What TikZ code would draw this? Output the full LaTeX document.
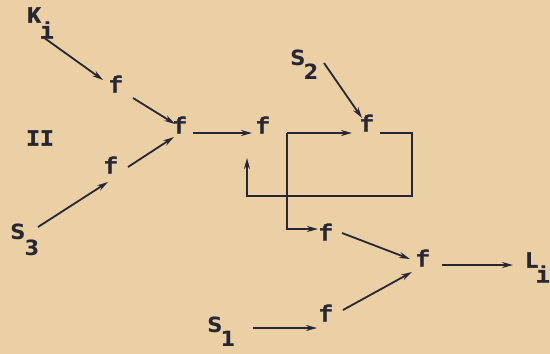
\documentclass[tikz,border=0pt]{standalone}
\usepackage{fontspec}
\newfontfamily\twfont{Liberation Mono Bold}[FakeBold=1.6]
\newfontfamily\stfont{DejaVu Sans Bold}
\usetikzlibrary{arrows.meta,calc}
\definecolor{paper}{RGB}{234,208,164}
\definecolor{ink}{RGB}{38,38,52}
\tikzset{
  tw/.style={inner sep=0pt, text=ink, font=\twfont\fontsize{23}{23}\selectfont},
  st/.style={inner sep=0pt, text=ink, font=\stfont\fontsize{21}{21}\selectfont},
  arr/.style={draw=ink, line width=1.8pt, -{Stealth[length=11pt,width=6pt]}},
  ln/.style={draw=ink, line width=1.8pt}
}
\begin{document}
\begin{tikzpicture}[x=1pt,y=-1pt]
\useasboundingbox (0,0) rectangle (550,354);
\fill[paper] (0,0) rectangle (550,354);
% labels
\node[tw] (K) at (34,15) {K};
\node[tw] (Ks) at (47,30) {i};
\node[tw] (II) at (40,138) {II};
\node[st] (S3) at (18,232) {S};
\node[st] (S3s) at (32,248) {3};
\node[st] (S2) at (298,58) {S};
\node[st] (S2s) at (311,72) {2};
\node[st] (S1) at (215,325) {S};
\node[st] (S1s) at (228,339) {1};
\node[tw] (L) at (532,260) {L};
\node[tw] (Ls) at (543,274) {i};
% f nodes
\node[tw] (f1) at (116,84) {f};
\node[tw] (f2) at (180,125) {f};
\node[tw] (f3) at (111,165) {f};
\node[tw] (f4) at (263,125) {f};
\node[tw] (f5) at (367,123) {f};
\node[tw] (f6) at (326,232) {f};
\node[tw] (f7) at (423,258) {f};
\node[tw] (f8) at (326,313) {f};
\coordinate (br) at ($(f4)+(24,8)$);
\coordinate (rc) at ($(f5)+(45,73)$);
\coordinate (lc) at ($(f4)+(-16,71)$);
% connectors
\draw[arr] ($(Ks)+(-4,7)$) -- ($(f1)+(-13,-4)$);
\draw[arr] ($(f1)+(17,14)$) -- ($(f2)+(-5,-1)$);
\draw[arr] ($(f3)+(17,2)$) -- ($(f2)+(-6,12)$);
\draw[arr] ($(S3)+(20,-5)$) -- ($(f3)+(-3,17)$);
\draw[arr] ($(f2)+(13,8)$) -- ($(f4)+(-11,8)$);
\draw[arr] ($(S2s)+(13,-9)$) -- ($(f5)+(-5,-5)$);
\draw[arr] (br) -- ($(f5)+(-15,10)$);
\draw[arr] (br) -- (br |- {$(f6)+(0,-3)$}) -- ($(f6)+(-8,-3)$);
\draw[arr] ($(f5)+(13,10)$) -| (rc) -- (lc) -- ($(f4)+(-16,33)$);
\draw[arr] ($(f6)+(16,1)$) -- ($(f7)+(-13,1)$);
\draw[arr] ($(f8)+(17,-3)$) -- ($(f7)+(-11,14)$);
\draw[arr] ($(f7)+(19,7)$) -- ($(L)+(-19,5)$);
\draw[arr] ($(S1)+(38,3)$) -- ($(f8)+(-9,15)$);
\end{tikzpicture}
\end{document}
